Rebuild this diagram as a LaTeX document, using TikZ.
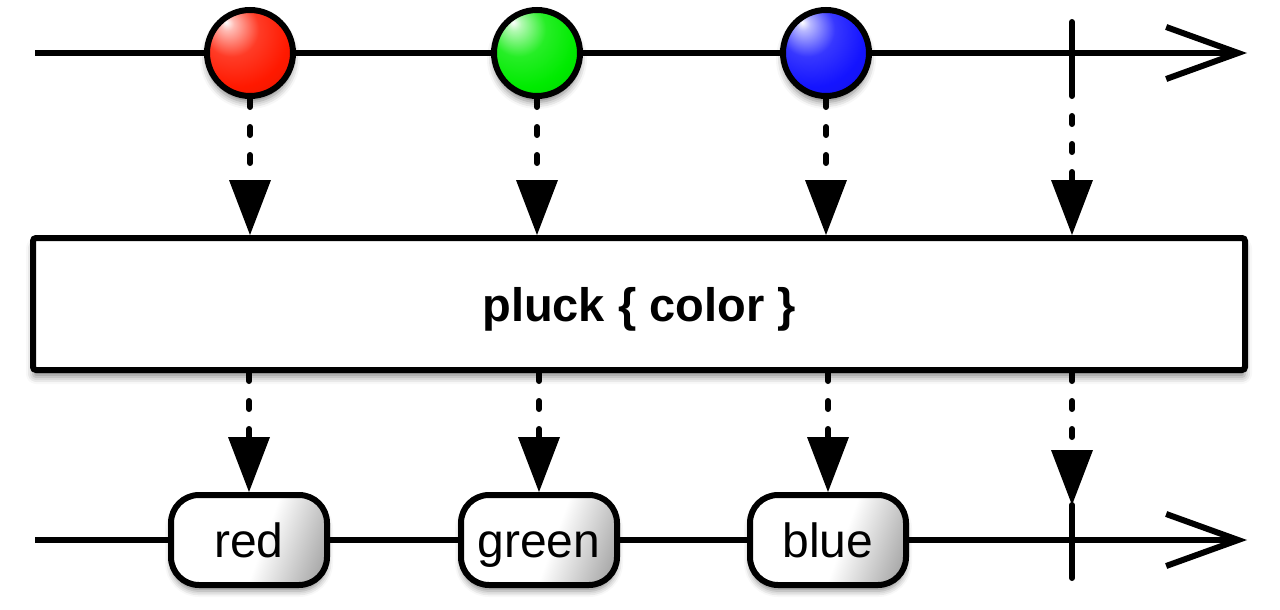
\documentclass[tikz,border=0pt]{standalone}
\usepackage{fontspec}
\setmainfont{Liberation Sans}
\usetikzlibrary{arrows.meta,shadows.blur}
\pgfdeclarehorizontalshading{pillshade}{100bp}{color(0bp)=(white); color(55bp)=(white); color(100bp)=(black!65)}
\definecolor{bred}{RGB}{255,25,0}
\definecolor{bgreen}{RGB}{0,235,0}
\definecolor{bblue}{RGB}{20,20,255}
\pgfdeclareradialshading{redball}{\pgfpoint{-14bp}{18bp}}{color(0bp)=(white); color(4bp)=(bred!30!white); color(16bp)=(bred!85!white); color(30bp)=(bred); color(50bp)=(bred!85!black); color(70bp)=(bred!60!black)}
\pgfdeclareradialshading{greenball}{\pgfpoint{-14bp}{18bp}}{color(0bp)=(white); color(4bp)=(bgreen!30!white); color(16bp)=(bgreen!85!white); color(30bp)=(bgreen); color(50bp)=(bgreen!85!black); color(70bp)=(bgreen!60!black)}
\pgfdeclareradialshading{blueball}{\pgfpoint{-14bp}{18bp}}{color(0bp)=(white); color(4bp)=(bblue!30!white); color(16bp)=(bblue!85!white); color(30bp)=(bblue); color(50bp)=(bblue!85!black); color(70bp)=(bblue!60!black)}
\tikzset{
  line/.style={line width=6pt},
  timeline/.style={line, -{Straight Barb[length=72pt,width=52pt,line width=6pt]}},
  tickmark/.style={line, line cap=round},
  ball/.style={circle, draw, line width=6pt, minimum size=86pt, inner sep=0pt,
    blur shadow={shadow xshift=0pt, shadow yshift=-6pt, shadow opacity=50, shadow blur radius=7pt}},
  opbox/.style={draw, line width=6pt, fill=white, rounded corners=3pt,
    minimum width=1212pt, minimum height=132pt, inner sep=0pt,
    text height=34pt, text depth=0pt,
    font=\fontsize{47}{50}\selectfont\bfseries,
    blur shadow={shadow xshift=0pt, shadow yshift=-7pt, shadow opacity=45, shadow blur radius=7pt}},
  pill/.style={draw, line width=6pt, rounded corners=28pt, shading=pillshade, shading angle=-20,
    minimum width=156pt, minimum height=90pt, inner sep=0pt,
    text height=35pt, text depth=0pt,
    font=\fontsize{48}{50}\selectfont,
    blur shadow={shadow xshift=0pt, shadow yshift=-6pt, shadow opacity=45, shadow blur radius=6pt}},
  dotarrow/.style={line, line cap=round, dash pattern=on 8pt off 20pt,
    -{Triangle[width=42pt,length=55pt,line width=0pt]}},
}
\begin{document}
\begin{tikzpicture}[x=1pt,y=-1pt]
\useasboundingbox (0,0) rectangle (1280,610);
% timelines
\coordinate (a0) at (35,53);
\coordinate (a1) at (1247,53);
\coordinate (b0) at (35,540);
\coordinate (b1) at (1247,540);
\draw[timeline] (a0) -- (a1);
\draw[timeline] (b0) -- (b1);
% ticks
\coordinate (k1) at (1072,22);
\coordinate (k2) at (1072,88);
\coordinate (k3) at (1072,505);
\coordinate (k4) at (1072,578);
\draw[tickmark] (k1) -- (k2);
\draw[tickmark] (k3) -- (k4);
% balls
\node[ball, shading=redball] (r) at (250,53) {};
\node[ball, shading=greenball] (g) at (537,53) {};
\node[ball, shading=blueball] (bl) at (826,53) {};
% operator box
\node[opbox] (box) at (639,304) {pluck \{ color \}};
% pills
\node[pill] (pr) at (249,540) {red};
\node[pill] (pg) at (539,540) {green};
\node[pill] (pb) at (828,540) {blue};
% dotted arrows
\draw[dotarrow] (r.south) -- (r.south |- box.north);
\draw[dotarrow] (g.south) -- (g.south |- box.north);
\draw[dotarrow] (bl.south) -- (bl.south |- box.north);
\draw[dotarrow] (k2) -- (k2 |- box.north);
\draw[dotarrow] (box.south -| pr.north) -- (pr.north);
\draw[dotarrow] (box.south -| pg.north) -- (pg.north);
\draw[dotarrow] (box.south -| pb.north) -- (pb.north);
\draw[dotarrow] (box.south -| k3) -- (k3);
\end{tikzpicture}
\end{document}
